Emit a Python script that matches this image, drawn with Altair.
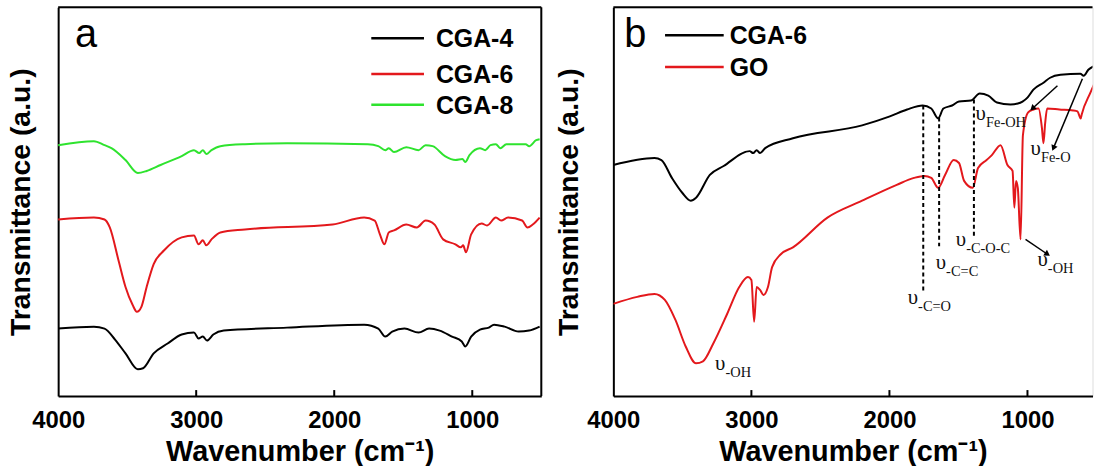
import altair as alt
import pandas as pd
import numpy as np

# ---------------- Panel a data ----------------
a4_wn = [4000, 3741, 3664, 3588, 3512, 3423, 3385, 3308, 3207, 3105, 3016, 2983, 2952, 2922, 2876, 2800,
         2342, 1783, 1681, 1630, 1580, 1491, 1389, 1313, 1236, 1147, 1076, 1051, 1008, 944, 880, 842, 766,
         664, 588, 512]
a4_t = [68, 70, 68, 57, 43, 27, 28, 43, 53, 62, 64, 58, 60, 56, 62, 66,
        69, 72, 68, 60, 65, 68, 64, 68, 66, 60, 55, 50, 60, 67, 69, 72, 70,
        65, 66, 70]

a6_wn = [4000, 3741, 3664, 3626, 3563, 3512, 3461, 3430, 3397, 3359, 3308, 3232, 3105, 3016, 2983, 2952,
         2927, 2889, 2825, 2647, 2012, 1783, 1707, 1669, 1636, 1605, 1567, 1478, 1402, 1338, 1274, 1211,
         1122, 1083, 1066, 1046, 1008, 932, 893, 829, 791, 741, 639, 600, 562, 512]
a6_t = [178, 180, 178, 170, 137, 110, 92, 85, 90, 110, 133, 147, 160, 162, 153, 157,
        152, 158, 165, 168, 173, 180, 177, 163, 153, 165, 167, 173, 170, 177, 173, 158,
        153, 150, 152, 145, 163, 174, 172, 180, 177, 180, 177, 170, 173, 180]

a8_wn = [4000, 3741, 3664, 3614, 3512, 3423, 3359, 3258, 3105, 3016, 2978, 2952, 2927, 2889, 2825, 2647,
         2342, 1757, 1681, 1630, 1605, 1567, 1478, 1389, 1338, 1287, 1198, 1122, 1071, 1051, 1020, 944,
         906, 868, 829, 797, 753, 613, 588, 537, 512]
a8_t = [253, 257, 253, 250, 238, 225, 227, 233, 242, 248, 245, 248, 244, 248, 252, 254,
        255, 254, 252, 248, 250, 246, 251, 248, 253, 252, 242, 238, 239, 236, 243, 250,
        248, 253, 254, 250, 254, 254, 252, 258, 259]

# ---------------- Panel b data ----------------
b6_wn = [4000, 3702, 3652, 3576, 3501, 3439, 3401, 3301, 3201, 3013, 2987, 2962, 2937, 2900, 2699, 2198,
         1997, 1872, 1759, 1697, 1647, 1609, 1546, 1496, 1409, 1346, 1284, 1221, 1123, 1070, 1036, 1000,
         957, 884, 836, 761, 617, 593, 559, 516]
b6_t = [233, 240, 238, 220, 205, 197, 200, 223, 232, 247, 245, 248, 245, 250, 260, 273,
        282, 289, 293, 290, 280, 290, 293, 297, 298, 305, 303, 296, 294, 295, 297, 301,
        309, 316, 321, 324, 325, 323, 329, 333]

go_wn = [4000, 3827, 3702, 3627, 3551, 3476, 3401, 3351, 3276, 3175, 3088, 3025, 3000, 2980, 2962, 2937,
         2912, 2880, 2850, 2787, 2699, 2449, 2198, 1947, 1822, 1747, 1697, 1647, 1597, 1534, 1496, 1459,
         1396, 1358, 1296, 1258, 1195, 1145, 1108, 1095, 1083, 1070, 1050, 1033, 995, 957, 920, 895,
         884, 872, 857, 769, 669, 638, 614, 607, 544, 516]
go_t = [93, 100, 103, 97, 77, 50, 33, 35, 53, 83, 110, 120, 117, 75, 110, 107,
        102, 110, 130, 143, 150, 180, 197, 213, 220, 222, 220, 210, 223, 238, 235, 217,
        210, 230, 238, 243, 253, 233, 227, 190, 217, 210, 158, 263, 286, 289, 290, 270,
        255, 275, 290, 289, 288, 287, 280, 284, 306, 315]

# annotations (panel b)
dash_wn = [1755, 1640, 1388]
dash_top = [293, 281, 299]
dash_bot = [106, 151, 159]

sym_wn = [3263, 1868, 1665, 1520, 928, 1376, 978]
sym_t = [26, 93, 128, 151, 131, 278, 243]
sub_txt = ["-OH", "-C=O", "-C=C", "-C-O-C", "-OH", "Fe-OH", "Fe-O"]

arr_tail_wn = [783, 602, 1014]
arr_tail_t = [313, 320, 158]
arr_head_wn = [964, 812, 855]
arr_head_t = [290, 250, 143]

tick_vals = [3000, 2000, 1000]
label_vals = [4000, 3000, 2000, 1000]

series_a = ["CGA-4", "CGA-6", "CGA-8"]
series_b = ["CGA-6", "GO"]

# ---------------- styling ----------------
BLACK = "#000000"
RED = "#e3181c"
GREEN = "#2ee32e"
SANS = "Liberation Sans"
SERIF = "Liberation Serif"
colors_a = [BLACK, RED, GREEN]
colors_b = [BLACK, RED]

WA, HA = 486, 391
WB, HB = 482, 391
YMAX = 392
XB_END = 4000 - WB / (486 / 3500)


def make_x(field, dom_end):
    return alt.X(f"{field}:Q",
                 scale=alt.Scale(domain=[dom_end, 4000], reverse=True, nice=False, zero=False),
                 axis=alt.Axis(values=label_vals, format="d", title="Wavenumber (cm⁻¹)", ticks=False,
                               grid=False, domainColor=BLACK, domainWidth=2, labelColor=BLACK,
                               titleColor=BLACK, labelFont=SANS, titleFont=SANS, labelFontSize=24,
                               labelFontWeight="bold", titleFontSize=29, titleFontWeight="bold",
                               labelPadding=13, titlePadding=5, labelFlush=False))


def make_y(field, tpad):
    return alt.Y(f"{field}:Q",
                 scale=alt.Scale(domain=[0, YMAX], nice=False, zero=False),
                 axis=alt.Axis(labels=False, ticks=False, grid=False, title="Transmittance (a.u.)",
                               domainColor=BLACK, domainWidth=2, titleColor=BLACK, titleFont=SANS,
                               titleFontSize=28.5, titleFontWeight="bold", titlePadding=tpad))


def frame_layers(W, H, right):
    one = pd.DataFrame({"d": [0]})
    layers = [alt.Chart(one).mark_rule(color=BLACK, strokeWidth=2).encode(
        x=alt.value(0), x2=alt.value(W), y=alt.value(0))]
    if right:
        layers.append(alt.Chart(one).mark_rule(color=BLACK, strokeWidth=2).encode(
            x=alt.value(W), y=alt.value(0), y2=alt.value(H)))
    return layers


def tick_layer(xenc, H):
    df = pd.DataFrame({"wn": tick_vals})
    return alt.Chart(df).mark_rule(color=BLACK, strokeWidth=2).encode(
        x=xenc, y=alt.value(H), y2=alt.value(H - 6))


def legend_layers(names, cols, x0, x1, xl, ys):
    layers = []
    for n, c, yy in zip(names, cols, ys):
        d = pd.DataFrame({"n": [n]})
        layers.append(alt.Chart(d).mark_rule(color=c, strokeWidth=2.5).encode(
            x=alt.value(x0), x2=alt.value(x1), y=alt.value(yy)))
        layers.append(alt.Chart(d).mark_text(font=SANS, fontSize=25, fontWeight="bold", align="left",
                                             baseline="middle", color=BLACK).encode(
            text="n:N", x=alt.value(xl), y=alt.value(yy + 1)))
    return layers


# ---------------- Panel a ----------------
dfa = pd.concat([
    pd.DataFrame({"wn": a4_wn, "t": a4_t, "s": "CGA-4"}),
    pd.DataFrame({"wn": a6_wn, "t": a6_t, "s": "CGA-6"}),
    pd.DataFrame({"wn": a8_wn, "t": a8_t, "s": "CGA-8"}),
])
lines_a = alt.Chart(dfa).mark_line(strokeWidth=2, interpolate="monotone").encode(
    x=make_x("wn", 500), y=make_y("t", 23),
    color=alt.Color("s:N", scale=alt.Scale(domain=series_a, range=colors_a), legend=None))
letter_a = alt.Chart(pd.DataFrame({"l": ["a"]})).mark_text(
    font=SANS, fontSize=40, align="left", baseline="alphabetic", color=BLACK).encode(
    text="l:N", x=alt.value(17), y=alt.value(40))
panel_a = alt.layer(lines_a, tick_layer(make_x("wn", 500), HA), letter_a,
                    *legend_layers(series_a, colors_a, 315, 368, 380, [31, 67, 98]),
                    *frame_layers(WA, HA, True)).properties(width=WA, height=HA)

# ---------------- Panel b ----------------
dfb = pd.concat([
    pd.DataFrame({"wn": b6_wn, "t": b6_t, "s": "CGA-6"}),
    pd.DataFrame({"wn": go_wn, "t": go_t, "s": "GO"}),
])
xb = make_x("wn", XB_END)
yb = make_y("t", 30)
lines_b = alt.Chart(dfb).mark_line(strokeWidth=2, interpolate="monotone", clip=True).encode(
    x=xb, y=yb,
    color=alt.Color("s:N", scale=alt.Scale(domain=series_b, range=colors_b), legend=None))

dash_df = pd.DataFrame({"wn": dash_wn, "t": dash_top, "t2": dash_bot})
dashes = alt.Chart(dash_df).mark_rule(color=BLACK, strokeWidth=2, strokeDash=[4, 3]).encode(
    x=xb, y=yb, y2="t2:Q")

sym_df = pd.DataFrame({"wn": sym_wn, "t": sym_t, "sub": sub_txt, "sym": ["υ"] * len(sym_wn)})
syms = alt.Chart(sym_df).mark_text(font=SERIF, fontSize=21, align="left", baseline="alphabetic",
                                   color="#111111").encode(x=xb, y=yb, text="sym:N")
subs = alt.Chart(sym_df).mark_text(font=SERIF, fontSize=14.5, align="left", baseline="alphabetic",
                                   dx=10.5, dy=7, color="#111111").encode(x=xb, y=yb, text="sub:N")

px_per_wn = WB / (4000 - XB_END)
px_per_t = HB / YMAX
ang = []
for tw, tt, hw, ht in zip(arr_tail_wn, arr_tail_t, arr_head_wn, arr_head_t):
    dx = -(hw - tw) * px_per_wn
    dy = -(ht - tt) * px_per_t
    ang.append(float(np.degrees(np.arctan2(dx, -dy)) % 360))
arr_df = pd.DataFrame({"wn": arr_tail_wn, "t": arr_tail_t, "wn2": arr_head_wn, "t2": arr_head_t})
arrows = alt.Chart(arr_df).mark_rule(color=BLACK, strokeWidth=1.5).encode(
    x=xb, y=yb, x2="wn2:Q", y2="t2:Q")
heads_df = pd.DataFrame({"wn": arr_head_wn, "t": arr_head_t, "ang": ang})
heads = alt.Chart(heads_df).mark_point(shape="triangle-up", filled=True, size=45, color=BLACK,
                                       opacity=1).encode(
    x=xb, y=yb, angle=alt.Angle("ang:Q", scale=None))

letter_b = alt.Chart(pd.DataFrame({"l": ["b"]})).mark_text(
    font=SANS, fontSize=40, align="left", baseline="alphabetic", color=BLACK).encode(
    text="l:N", x=alt.value(11), y=alt.value(40))

panel_b = alt.layer(lines_b, dashes, arrows, heads, syms, subs,
                    tick_layer(make_x("wn", XB_END), HB), letter_b,
                    *legend_layers(series_b, colors_b, 52, 111, 117, [28, 60]),
                    *frame_layers(WB, HB, False)).properties(width=WB, height=HB)

chart = alt.hconcat(panel_a, panel_b, spacing=9.5).resolve_scale(color="independent").properties(
    padding={"left": 5.5, "top": 4, "right": 0, "bottom": 0}
).configure_view(stroke=None).configure(background="white")

chart.save("out.html", embed_options={"renderer": "svg", "actions": False})
